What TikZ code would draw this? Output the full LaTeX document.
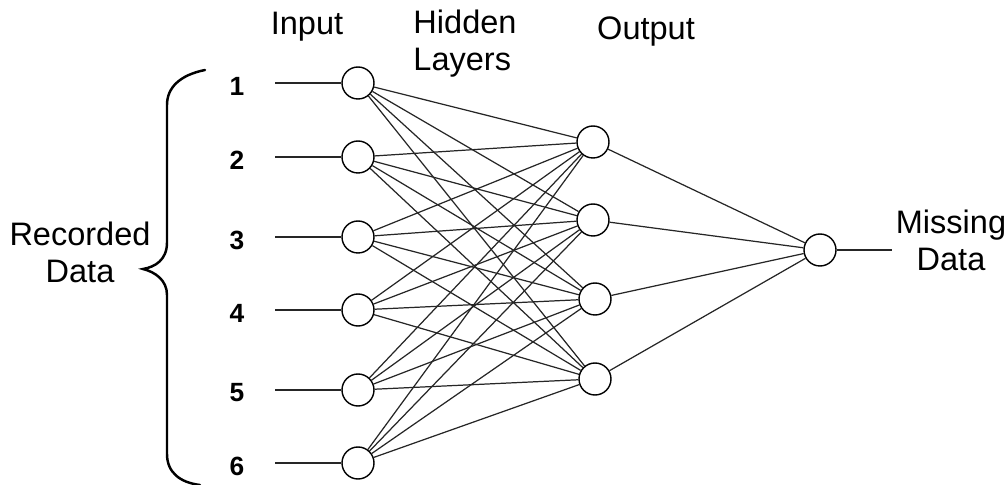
\documentclass[tikz,border=0pt]{standalone}
\usepackage{fontspec}
\setmainfont{Liberation Sans}
\usepackage{tikz}
\usetikzlibrary{positioning,calc}
\tikzset{
  neuron/.style={circle,draw=black,thick,inner sep=0pt,minimum size=0.64cm},
  lbltext/.style={font=\fontsize{18.5}{21}\selectfont,inner sep=0pt},
  numtext/.style={font=\fontsize{15}{17}\selectfont\bfseries,inner sep=0pt},
  conn/.style={line width=0.7pt,color=black!85},
  bracepath/.style={line width=1.4pt,line cap=round}
}
\begin{document}
\begin{tikzpicture}
  \useasboundingbox (0,0) rectangle (20.14,9.7);

  % Input layer
  \node[neuron] (in1) at (7.16,8.04) {};
  \node[neuron] (in2) at (7.16,6.56) {};
  \node[neuron] (in3) at (7.16,4.96) {};
  \node[neuron] (in4) at (7.16,3.50) {};
  \node[neuron] (in5) at (7.16,1.90) {};
  \node[neuron] (in6) at (7.16,0.44) {};

  % Hidden layer
  \node[neuron] (hid1) at (11.86,6.86) {};
  \node[neuron] (hid2) at (11.86,5.30) {};
  \node[neuron] (hid3) at (11.90,3.72) {};
  \node[neuron] (hid4) at (11.90,2.12) {};

  % Output
  \node[neuron] (out) at (16.40,4.70) {};
  \coordinate (outend) at (17.84,4.70);

  % Input lines and numbers
  \foreach \i in {1,...,6} {
    \coordinate (start\i) at ($(in\i)+(-1.66,0)$);
    \node[numtext] (num\i) at ($(in\i)+(-2.42,-0.06)$) {\i};
    \draw[conn] (start\i) -- (in\i);
  }

  % Connections
  \foreach \i in {1,...,6}
    \foreach \j in {1,...,4}
      \draw[conn] (in\i) -- (hid\j);
  \foreach \j in {1,...,4}
    \draw[conn] (hid\j) -- (out);
  \draw[conn] (out) -- (outend);

  % Labels
  \node[lbltext] (inputlbl) at (6.14,9.16) {Input};
  \node[lbltext,align=left] (hiddenlbl) at (9.30,8.83) {Hidden\\Layers};
  \node[lbltext] (outputlbl) at (12.92,9.06) {Output};
  \node[lbltext,align=center] (recorded) at (1.60,4.66) {Recorded\\Data};
  \node[lbltext,align=center] (missing) at (19.02,4.90) {Missing\\Data};

  % Brace
  \draw[bracepath] (4.10,8.30) .. controls (3.60,8.20) and (3.34,7.95) .. (3.34,7.60)
    -- (3.34,4.85) .. controls (3.34,4.50) and (3.10,4.36) .. (2.86,4.32)
    .. controls (3.10,4.26) and (3.34,4.10) .. (3.34,3.80)
    -- (3.34,0.62) .. controls (3.34,0.25) and (3.60,0.05) .. (4.00,0.00);
\end{tikzpicture}
\end{document}
